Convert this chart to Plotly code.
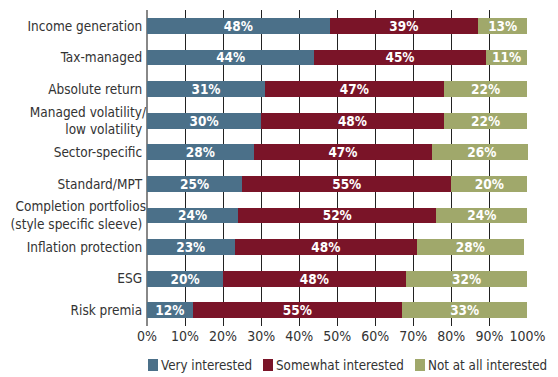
import plotly.graph_objects as go

categories = [
    "Income generation",
    "Tax-managed",
    "Absolute return",
    "Managed volatility/<br>low volatility",
    "Sector-specific",
    "Standard/MPT",
    "Completion portfolios<br>(style specific sleeve)",
    "Inflation protection",
    "ESG",
    "Risk premia",
]
very_interested = [48, 44, 31, 30, 28, 25, 24, 23, 20, 12]
somewhat_interested = [39, 45, 47, 48, 47, 55, 52, 48, 48, 55]
not_interested = [13, 11, 22, 22, 26, 20, 24, 28, 32, 33]

series_names = ["Very interested", "Somewhat interested", "Not at all interested"]
series_values = [very_interested, somewhat_interested, not_interested]
series_colors = ["#4b7089", "#7a1428", "#a0a86b"]

FONT = "DejaVu Sans Condensed, sans-serif"
TEXT = "#333333"

# plot area in pixels (used to place the key below the axis)
W, H = 558, 377
M_L, M_R, M_T, M_B = 147, 30, 10, 51
PW, PH = W - M_L - M_R, H - M_T - M_B

fig = go.Figure()
for name, vals, color in zip(series_names, series_values, series_colors):
    fig.add_trace(go.Bar(
        name=name,
        y=categories,
        x=vals,
        orientation="h",
        marker=dict(color=color, line=dict(width=0)),
        text=[f"<b>{v}%</b>" for v in vals],
        textposition="inside",
        insidetextanchor="middle",
        constraintext="none",
        textfont=dict(family=FONT, size=13.5, color="white"),
        hoverinfo="skip",
        showlegend=False,
    ))

# key: coloured square followed by the series name
key_left_px = [148, 263, 415]
sq_w, sq_top, sq_bot = 10, 359, 371
for name, color, left in zip(series_names, series_colors, key_left_px):
    x0 = (left - M_L) / PW
    x1 = (left + sq_w - M_L) / PW
    y0 = (M_T + PH - sq_bot) / PH
    y1 = (M_T + PH - sq_top) / PH
    fig.add_shape(type="rect", xref="paper", yref="paper",
                  x0=x0, x1=x1, y0=y0, y1=y1,
                  fillcolor=color, line=dict(width=0))
    fig.add_annotation(xref="paper", yref="paper",
                       x=(left + sq_w + 1 - M_L) / PW, y=(y0 + y1) / 2,
                       xanchor="left", yanchor="middle",
                       text=name, showarrow=False,
                       font=dict(family=FONT, size=13.3, color=TEXT))

fig.update_layout(
    barmode="stack",
    bargap=0.5,
    width=W,
    height=H,
    margin=dict(l=M_L, r=M_R, t=M_T, b=M_B, autoexpand=False),
    paper_bgcolor="white",
    plot_bgcolor="white",
    font=dict(family=FONT, size=13, color=TEXT),
    showlegend=False,
    xaxis=dict(
        range=[0, 100.15],
        tickvals=list(range(0, 101, 10)),
        ticktext=[f"{v}%" for v in range(0, 101, 10)],
        tickangle=0,
        showgrid=True,
        gridcolor="#222222",
        gridwidth=1,
        zeroline=True,
        zerolinecolor="#888888",
        zerolinewidth=1.5,
        showline=False,
        ticks="",
        tickfont=dict(family=FONT, size=14, color=TEXT),
        fixedrange=True,
    ),
    yaxis=dict(
        autorange="reversed",
        showline=False,
        ticks="",
        ticksuffix=" ",
        tickfont=dict(family=FONT, size=13.5, color=TEXT),
        fixedrange=True,
    ),
)

fig.write_html("out.html")
